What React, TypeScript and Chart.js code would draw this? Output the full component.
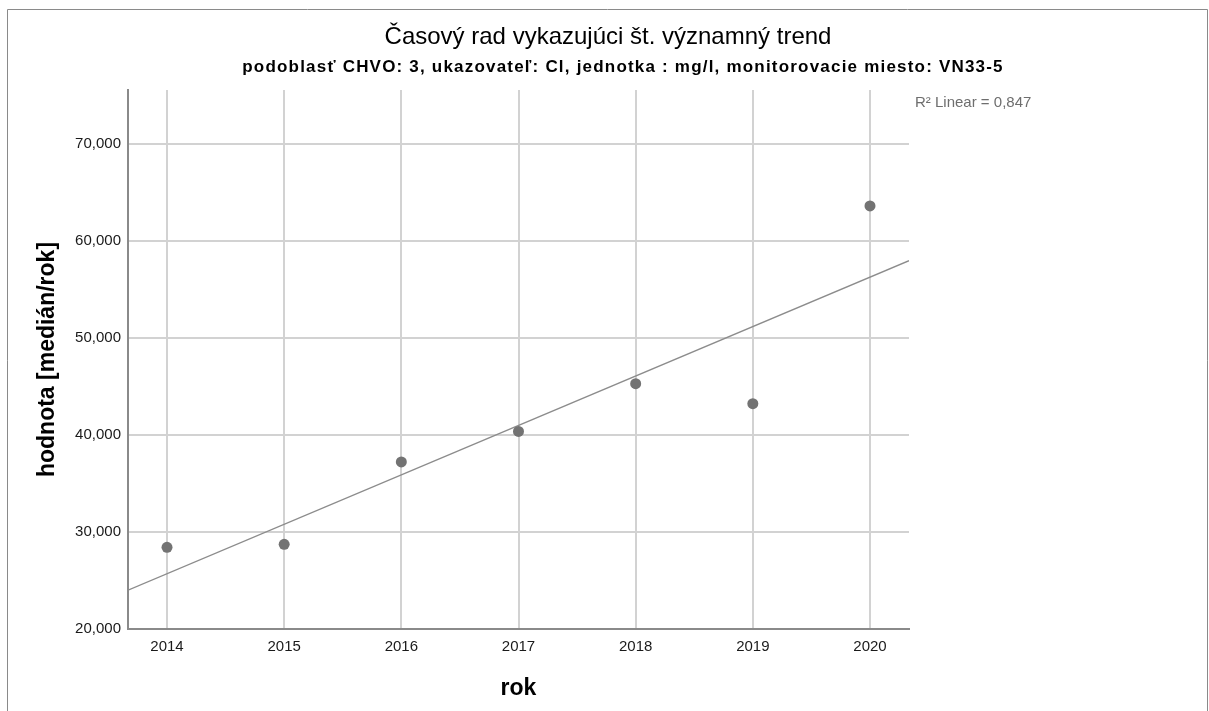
import React, { useEffect, useRef } from "react";
import { Chart, registerables } from "chart.js";

Chart.register(...registerables);

const years = [2014, 2015, 2016, 2017, 2018, 2019, 2020];
const values = [28424, 28733, 37220, 40371, 45283, 43223, 63615];
const yTicks = [20000, 30000, 40000, 50000, 60000, 70000];
const xMin = 2013.667;
const xMax = 2020.333;
const yMin = 20000;
const yMax = 75560;

const titleText = "Časový rad vykazujúci št. významný trend";
const subtitleText =
  "podoblasť CHVO: 3, ukazovateľ: Cl, jednotka : mg/l, monitorovacie miesto: VN33-5";
const r2Text = "R² Linear = 0,847";
const xTitle = "rok";
const yTitle = "hodnota [medián/rok]";

function fit(xs: number[], ys: number[]) {
  const n = xs.length;
  const mx = xs.reduce((a, b) => a + b, 0) / n;
  const my = ys.reduce((a, b) => a + b, 0) / n;
  let sxy = 0;
  let sxx = 0;
  for (let i = 0; i < n; i++) {
    sxy += (xs[i] - mx) * (ys[i] - my);
    sxx += (xs[i] - mx) * (xs[i] - mx);
  }
  const b = sxy / sxx;
  const a = my - b * mx;
  return (x: number) => a + b * x;
}

const FONT = "'Liberation Sans', Arial, sans-serif";

const decorPlugin = {
  id: "decor",
  afterDraw(chart: any) {
    const ctx = chart.ctx;
    const area = chart.chartArea;
    ctx.save();
    // frame
    ctx.strokeStyle = "#8a8a8a";
    ctx.lineWidth = 1;
    ctx.beginPath();
    ctx.moveTo(7.5, 711);
    ctx.lineTo(7.5, 9.5);
    ctx.lineTo(1207.5, 9.5);
    ctx.lineTo(1207.5, 711);
    ctx.stroke();
    // titles
    ctx.fillStyle = "#000";
    ctx.textAlign = "center";
    ctx.textBaseline = "middle";
    ctx.font = `24px ${FONT}`;
    ctx.fillText(titleText, 608, 37);
    ctx.font = `bold 17px ${FONT}`;
    ctx.letterSpacing = "1.2px";
    ctx.fillText(subtitleText, 623, 67);
    ctx.letterSpacing = "0px";
    // R2 label
    ctx.fillStyle = "#6e6e6e";
    ctx.textAlign = "left";
    ctx.font = `15px ${FONT}`;
    ctx.fillText(r2Text, area.right + 6, 103);
    // axis titles
    ctx.fillStyle = "#000";
    ctx.textAlign = "center";
    ctx.font = `bold 23px ${FONT}`;
    ctx.fillText(xTitle, (area.left + area.right) / 2, 689);
    ctx.translate(48, (area.top + area.bottom) / 2);
    ctx.rotate(-Math.PI / 2);
    ctx.fillText(yTitle, 0, 0);
    ctx.restore();
  },
};

export default function App() {
  const ref = useRef<HTMLCanvasElement>(null);
  useEffect(() => {
    const f = fit(years, values);
    const points = years.map((y, i) => ({ x: y, y: values[i] }));
    const trend = [
      { x: xMin, y: f(xMin) },
      { x: xMax, y: f(xMax) },
    ];
    const chart = new Chart(ref.current as HTMLCanvasElement, {
      type: "scatter",
      data: {
        datasets: [
          {
            label: "trend",
            data: trend,
            showLine: true,
            borderColor: "#8c8c8c",
            borderWidth: 1.4,
            pointRadius: 0,
            order: 2,
          },
          {
            label: "hodnota",
            data: points,
            pointRadius: 5.5,
            backgroundColor: "#737373",
            borderWidth: 0,
            order: 1,
          },
        ],
      },
      options: {
        animation: false,
        responsive: false,
        devicePixelRatio: 1,
        layout: { padding: { top: 90, right: 300, left: 0, bottom: 0 } },
        plugins: {
          legend: { display: false },
          tooltip: { enabled: false },
        },
        scales: {
          x: {
            type: "linear",
            min: xMin,
            max: xMax,
            afterFit: (s: any) => {
              s.height = 82;
            },
            afterBuildTicks: (s: any) => {
              s.ticks = years.map((v) => ({ value: v }));
            },
            ticks: {
              padding: 9,
              color: "#1a1a1a",
              font: { family: FONT, size: 15 },
              callback: (v: any) => String(v),
            },
            grid: { color: "#d2d2d2", lineWidth: 2, drawTicks: false },
            border: { color: "#8a8a8a", width: 2 },
          },
          y: {
            type: "linear",
            min: yMin,
            max: yMax,
            afterFit: (s: any) => {
              s.width = 128;
            },
            afterBuildTicks: (s: any) => {
              s.ticks = yTicks.map((v) => ({ value: v }));
            },
            ticks: {
              padding: 7,
              color: "#1a1a1a",
              font: { family: FONT, size: 15 },
              callback: (v: any) => Number(v).toLocaleString("en-US"),
            },
            grid: { color: "#d2d2d2", lineWidth: 2, drawTicks: false },
            border: { color: "#8a8a8a", width: 2 },
          },
        },
      },
      plugins: [decorPlugin],
    });
    return () => chart.destroy();
  }, []);
  return (
    <div style={{ position: "absolute", left: 0, top: 0, width: 1209, height: 711, background: "#fff" }}>
      <canvas ref={ref} width={1209} height={711} style={{ width: 1209, height: 711 }} />
    </div>
  );
}
